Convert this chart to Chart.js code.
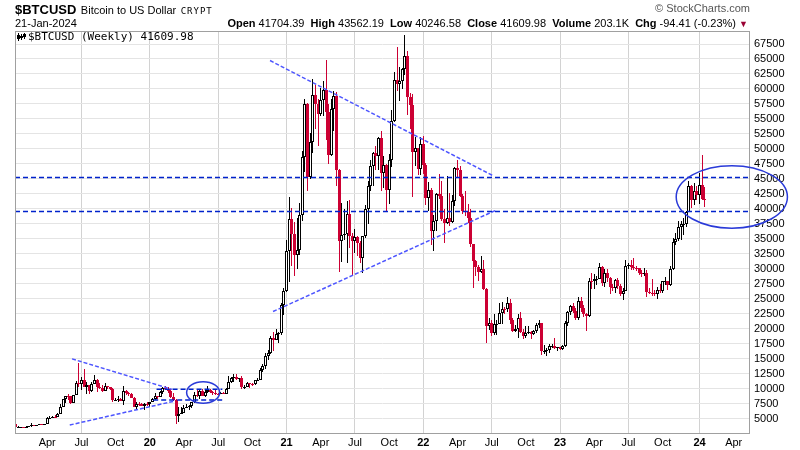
<!DOCTYPE html>
<html>
<head>
<meta charset="utf-8">
<script src="https://cdn.jsdelivr.net/npm/chart.js@4.4.1/dist/chart.umd.min.js"></script>
<style>
 html,body{margin:0;padding:0;background:#fff;}
 #wrap{position:relative;width:800px;height:450px;overflow:hidden;font-family:"Liberation Sans",Arial,sans-serif;color:#000;}
 #chart{position:absolute;left:0;top:0;}
 .t{position:absolute;white-space:nowrap;}
</style>
</head>
<body>
<div id="wrap">
 <canvas id="chart" width="800" height="450"></canvas>
 <div class="t" style="left:15px;top:1px;line-height:16px;"><span style="font-weight:bold;font-size:13px;">$BTCUSD</span> <span style="font-size:11px;">Bitcoin to US Dollar</span> <span style="font-family:'DejaVu Sans Mono',monospace;font-size:9px;letter-spacing:1px;">CRYPT</span></div>
 <div class="t" style="right:50px;top:2px;font-size:11px;line-height:13px;color:#555;">&copy; StockCharts.com</div>
 <div class="t" id="date" style="left:15px;top:17px;font-size:11px;line-height:13px;"></div>
 <div class="t" id="ohlc" style="right:52px;top:17px;font-size:11px;line-height:13px;"></div>
 <div class="t" id="leg" style="left:28px;top:30px;font-family:'DejaVu Sans Mono',monospace;font-size:11px;line-height:13px;"></div>
</div>
<script>
// ---- weekly candles, first bar = week ending Sun 13-Jan-2019, last = week ending Sun 21-Jan-2024 ----
const firstWeekEnd = '2019-01-13';
const extraWeeks = 17;           // empty weeks shown after the last bar
const lastVolume = '203.1K';

const opens = [
// 2019
4050,3510,3540,3550,3460,3660,3670,3850,3810,3920,4000,3990,4110,5060,5160,5300,5210,5730,7000,8200,8740,8720,7650,8990,10860,10820,11480,10250,10540,9530,10820,11390,10230,10140,9630,10390,10310,10000,8070,8150,8300,7950,9550,9200,9050,8500,6900,7420,7400,7060,7500,
// 2020
7400,7760,8190,8700,8600,9340,10140,9920,9660,8560,8040,5360,5830,5880,6780,6900,7120,7680,8900,8750,9670,8790,9450,9760,9390,9300,9120,9070,9280,9170,9930,11050,11680,11850,11660,11700,10260,10330,10930,10780,10680,11380,11500,13030,13740,15480,15960,18370,18180,19150,19270,23870,26270,
// 2021
33000,38350,35800,32300,33100,38900,48600,57500,45250,51200,59000,57500,55800,58200,59800,56200,49000,56600,58800,46400,34700,35700,35800,39100,35500,34700,35300,34250,31800,35400,39900,43800,47100,49300,48800,51800,46000,47300,43200,48200,54700,61500,60900,61300,63300,65500,58700,57300,49400,50100,46700,50800,
// 2022
47300,41800,43100,36300,37900,42400,42200,38300,37700,38400,37800,41300,46800,46400,42200,39700,39500,38500,34100,31300,30300,29400,29900,26600,20500,21000,19300,20800,20800,22600,23300,23200,24300,21500,19600,20000,21800,19400,18800,19300,19400,19100,19600,20600,20900,16300,16300,16500,17100,17100,16750,16850,
// 2023
16600,17100,20900,22700,23700,22900,21800,24600,23500,22400,22150,28000,27990,28200,28300,30300,27600,29200,28400,26900,26800,28100,27100,25800,26300,30500,30600,30300,30200,30100,29300,29050,29300,26100,26000,25900,25800,26500,26200,27900,27900,27200,30000,34500,35000,37000,37400,37500,39500,43800,41400,43000,
// 2024
42300,43900,41704.39
];
const highs = [
// 2019
4110,3720,3640,3560,3700,3700,4200,3920,3950,4030,4080,4140,5300,5470,5360,5630,5900,7450,8300,8800,9090,8780,9000,11230,14200,12000,13180,11080,10650,11040,12320,11600,10950,10620,10900,10450,10330,10050,8450,8810,8410,10370,9800,9500,9270,8510,7820,7750,7650,7520,7690,
// 2020
7800,8470,9190,8780,9560,10180,10500,10250,9980,9190,8180,6900,6880,7280,7460,7290,7730,9460,10000,9900,9950,9740,10400,10000,9580,9790,9290,9480,9340,10110,12050,11910,12460,12470,11800,12080,10590,11170,10990,10960,11490,11720,13350,14040,15960,16480,18780,19420,19920,19410,24300,26800,34780,
// 2021
41950,40100,37850,38500,40950,49700,58350,57600,52650,61700,60700,58400,60100,61300,64850,57500,58400,59600,59500,46600,40900,39900,41300,41400,36000,36600,35400,34700,35500,40600,44700,48100,49500,50500,52000,52900,48800,47400,49200,56500,62900,67000,63700,63500,69000,66300,59300,59100,51900,50200,51900,52100,
// 2022
47600,44400,43500,38900,42600,45800,44700,40000,45400,42600,42300,46900,48200,47100,42400,42900,40800,40000,34200,31400,30600,32200,31500,26800,21800,21400,22500,21500,24200,24500,23600,25200,25000,21800,20600,22500,22700,19900,20400,20500,19600,19700,21000,21500,21000,17200,16800,17400,17400,18400,17000,16950,
// 2023
17200,21300,23000,23900,24200,23400,25200,25200,23900,22600,28400,29200,29100,28800,31000,30400,30000,29900,28600,27500,28200,28400,27400,26800,31400,31000,31400,31800,30400,30200,29700,30200,29700,26800,28200,26400,26900,27500,28000,28600,28000,30400,35200,35900,37900,37900,38400,39600,44700,43900,44300,43800,
// 2024
45900,49000,43562.19
];
const lows = [
// 2019
3500,3500,3500,3400,3390,3580,3660,3760,3720,3850,3970,3930,4100,4950,5050,5050,5180,5700,6880,7520,8080,7450,7560,8950,10270,9710,10220,9080,9170,9390,10800,9490,9890,9360,9600,9930,9710,7720,7880,7790,7900,7300,8970,8700,8430,6850,6530,7150,7050,6430,7150,
// 2020
6860,7700,8100,8250,8550,9140,9700,9300,8490,8000,4000,4450,5690,5860,6750,6470,6800,7650,8600,8200,8710,8650,9300,9240,9000,8880,8960,9050,9050,9140,9900,10980,11160,11380,11120,9900,9880,10210,10140,10380,10530,11220,11420,12800,13200,14840,15820,16330,18120,17600,19000,22350,26100,
// 2021
27700,30400,28850,29900,32300,37950,46200,43000,44950,49300,53300,50500,55500,55500,51500,47500,48800,52900,43800,29500,31100,34800,31000,33400,28800,32700,32100,31000,29300,35200,37500,42900,43800,46400,46500,42900,43400,39600,40800,46900,54400,59700,58000,60000,62300,55600,53300,42000,47100,45600,45600,45800,
// 2022
40600,39700,34000,32900,36300,41700,38000,34300,37500,37100,37600,40500,45200,41900,39200,38800,37600,33700,26700,28700,28000,29300,26500,17600,19700,18700,19000,18900,20700,20700,22500,22700,20800,19500,19500,18500,19300,18200,18500,19100,18200,18900,19300,20100,15600,15800,15500,16000,16700,16600,16300,16400,
// 2023
16500,17000,20400,22300,22600,21400,21400,22800,21900,19600,21900,26600,26600,27300,28200,27100,26900,27700,25800,26300,25900,26600,25400,24800,26200,29900,29800,29700,29600,29000,28600,28700,25200,25700,25400,25400,24900,26000,26000,27200,26500,27100,29800,33900,34600,34800,35700,36900,39400,40200,40600,41500,
// 2024
40800,41500,40246.58
];
const closes = [
// 2019
3510,3540,3550,3460,3660,3670,3850,3810,3920,4000,3990,4110,5060,5160,5300,5210,5730,7000,8200,8740,8720,7650,8990,10860,10820,11480,10250,10540,9530,10820,11390,10230,10140,9630,10390,10310,10000,8070,8150,8300,7950,9550,9200,9050,8500,6900,7420,7400,7060,7500,7400,
// 2020
7760,8190,8700,8600,9340,10140,9920,9660,8560,8040,5360,5830,5880,6780,6900,7120,7680,8900,8750,9670,8790,9450,9760,9390,9300,9120,9070,9280,9170,9930,11050,11680,11850,11660,11700,10260,10330,10930,10780,10680,11380,11500,13030,13740,15480,15960,18370,18180,19150,19270,23870,26270,33000,
// 2021
38350,35800,32300,33100,38900,48600,57500,45250,51200,59000,57500,55800,58200,59800,56200,49000,56600,58800,46400,34700,35700,35800,39100,35500,34700,35300,34250,31800,35400,39900,43800,47100,49300,48800,51800,46000,47300,43200,48200,54700,61500,60900,61300,63300,65500,58700,57300,49400,50100,46700,50800,47300,
// 2022
41800,43100,36300,37900,42400,42200,38300,37700,38400,37800,41300,46800,46400,42200,39700,39500,38500,34100,31300,30300,29400,29900,26600,20500,21000,19300,20800,20800,22600,23300,23200,24300,21500,19600,20000,21800,19400,18800,19300,19400,19100,19600,20600,20900,16300,16300,16500,17100,17100,16750,16850,16600,
// 2023
17100,20900,22700,23700,22900,21800,24600,23500,22400,22150,28000,27990,28200,28300,30300,27600,29200,28400,26900,26800,28100,27100,25800,26300,30500,30600,30300,30200,30100,29300,29050,29300,26100,26000,25900,25800,26500,26200,27900,27900,27200,30000,34500,35000,37000,37400,37500,39500,43800,41400,43000,42300,
// 2024
43900,41704.39,41609.98
];

// y-axis tick labels
const yTicks = [5000,7500,10000,12500,15000,17500,20000,22500,25000,27500,30000,32500,35000,37500,40000,42500,45000,47500,50000,52500,55000,57500,60000,62500,65000,67500];
const quarterNames = {0:null,3:'Apr',6:'Jul',9:'Oct'};

// annotations: [date, price]
const trendUpper2019 = [['2019-06-12',14950],['2020-03-04',9860]];
const trendLower2019 = [['2019-06-06',3914],['2020-03-12',7924]];
const band2020Top    = [['2020-01-23',9880],['2020-07-16',9880]];
const band2020Bottom = [['2020-01-14',8090],['2020-07-22',8090]];
const triUpper       = [['2020-11-20',64740],['2022-07-06',45530]];
const triLower       = [['2020-11-28',22850],['2022-07-17',39840]];
const hLevels = [45250, 39650];
const ellipseCenters = [['2020-05-26',9345],['2024-04-02',41980]];
const ellipseHalfDays = [44, 148];
const ellipseHalfPrice = [1805, 5210];

// ---- helpers ----
const DAY = 86400000;
const t0 = Date.parse(firstWeekEnd + 'T00:00:00Z');
const idxOf = s => (Date.parse(s + 'T00:00:00Z') - t0) / (7 * DAY);
const nBars = closes.length;
const nSlots = nBars + extraWeeks;
const weekEnds = [];
for (let i = 0; i < nSlots; i++) weekEnds.push(new Date(t0 + i * 7 * DAY));
const MON = ['Jan','Feb','Mar','Apr','May','Jun','Jul','Aug','Sep','Oct','Nov','Dec'];

const tickIdx = [], tickText = {}, tickBold = {}, gridIdx = {};
weekEnds.forEach((d, i) => {
  const m = d.getUTCMonth();
  if (d.getUTCDate() <= 7 && m % 3 === 0) {
    tickIdx.push(i);
    if (m === 0) { tickText[i] = String(d.getUTCFullYear() % 100).padStart(2,'0'); tickBold[i] = true; }
    else tickText[i] = quarterNames[m];
    if (m === 0 || m === 6) gridIdx[i] = true;
  }
});

const BLACK = '#000000', RED = '#cc0033';
const cColor = [], cFill = [];
for (let i = 0; i < nBars; i++) {
  const prev = i > 0 ? closes[i-1] : opens[i];
  const col = closes[i] >= prev ? BLACK : RED;
  cColor.push(col);
  cFill.push(closes[i] > opens[i] ? '#ffffff' : col);
}

// header texts
const li = nBars - 1;
const ld = weekEnds[li];
document.getElementById('date').textContent =
  String(ld.getUTCDate()).padStart(2,'0') + '-' + MON[ld.getUTCMonth()] + '-' + ld.getUTCFullYear();
const chg = closes[li] - closes[li-1];
const pct = chg / closes[li-1] * 100;
document.getElementById('ohlc').innerHTML =
  '<b>Open</b> ' + opens[li].toFixed(2) + ' &nbsp;<b>High</b> ' + highs[li].toFixed(2) +
  ' &nbsp;<b>Low</b> ' + lows[li].toFixed(2) + ' &nbsp;<b>Close</b> ' + closes[li].toFixed(2) +
  ' &nbsp;<b>Volume</b> ' + lastVolume + ' &nbsp;<b>Chg</b> ' + chg.toFixed(2) + ' (' + pct.toFixed(2) + '%) ' +
  '<span style="color:#990033;font-size:9px;">&#9660;</span>';
document.getElementById('leg').textContent = '$BTCUSD (Weekly) ' + closes[li].toFixed(2);

// ---- datasets ----
const wickData = [], bodyData = [];
for (let i = 0; i < nBars; i++) {
  wickData.push({x: i, y: [lows[i], highs[i]]});
  bodyData.push({x: i, y: [opens[i], closes[i]]});
}
const lineDs = (pts, color, dash, w) => ({
  type: 'line', data: pts.map(p => ({x: idxOf(p[0]), y: p[1]})),
  borderColor: color, borderWidth: w, borderDash: dash, pointRadius: 0,
  fill: false, tension: 0, order: 0
});
const LIGHT = '#4d55ff', DARK = '#0022cc';

const snapPlugin = {
  id: 'snap',
  afterDatasetsUpdate(chart) {
    chart.data.datasets.forEach((ds, di) => {
      if (!ds.role) return;
      const meta = chart.getDatasetMeta(di);
      const w = ds.role === 'body' ? 3 : 1;
      meta.data.forEach(el => {
        if (!el || isNaN(el.x) || isNaN(el.y)) return;
        el.x = Math.floor(el.x) + 0.5;
        el.width = w;
        let y = Math.round(el.y), b = Math.round(el.base);
        if (Math.abs(b - y) < 1) b = y + 1;
        el.y = y; el.base = b;
      });
    });
  }
};

const decoPlugin = {
  id: 'deco',
  afterDatasetsDraw(chart) {
    const {ctx, chartArea: a, scales: {y}} = chart;
    ctx.save();
    ctx.strokeStyle = DARK; ctx.lineWidth = 1.5; ctx.setLineDash([5,3]);
    hLevels.forEach(v => {
      const py = Math.round(y.getPixelForValue(v)) + 0.5;
      ctx.beginPath(); ctx.moveTo(a.left, py); ctx.lineTo(a.right, py); ctx.stroke();
    });
    ctx.restore();
  },
  afterDraw(chart) {
    const {ctx, chartArea: a, scales: {x, y}} = chart;
    ctx.save();
    ctx.strokeStyle = '#a0a0a0'; ctx.lineWidth = 1; ctx.setLineDash([]);
    ctx.strokeRect(Math.round(a.left) + 0.5, Math.round(a.top) + 0.5, Math.round(a.right - a.left) - 1, Math.round(a.bottom - a.top));
    // legend icon
    ctx.fillStyle = '#000';
    [[18,33,41,35,39],[21,34,40,36,38],[24,33,39,34,37]].forEach(c => {
      ctx.fillRect(c[0], c[1], 1, c[2]-c[1]);
      ctx.fillRect(c[0]-1, c[3], 3, c[4]-c[3]);
    });
    // ellipses
    ctx.strokeStyle = '#2a3ad8'; ctx.lineWidth = 1.5;
    ellipseCenters.forEach((c, k) => {
      const ci = idxOf(c[0]);
      const cx = x.getPixelForValue(ci), cy = y.getPixelForValue(c[1]);
      const rx = Math.abs(x.getPixelForValue(ci + ellipseHalfDays[k] / 7) - cx);
      const ry = Math.abs(y.getPixelForValue(c[1] + ellipseHalfPrice[k]) - cy);
      ctx.beginPath(); ctx.ellipse(cx, cy, rx, ry, 0, 0, Math.PI * 2); ctx.stroke();
    });
    ctx.restore();
  }
};

const FONT = "'Liberation Sans', Arial, sans-serif";
new Chart(document.getElementById('chart'), {
  type: 'bar',
  data: {
    datasets: [
      {role: 'wick', data: wickData, backgroundColor: cColor, borderWidth: 0, grouped: false, inflateAmount: 0, order: 3},
      {role: 'body', data: bodyData, backgroundColor: cFill, borderColor: cColor, borderWidth: 1, borderSkipped: false, grouped: false, inflateAmount: 0, order: 2},
      lineDs(trendUpper2019, LIGHT, [4,2], 1.5),
      lineDs(trendLower2019, LIGHT, [4,2], 1.5),
      lineDs(triUpper, LIGHT, [4,2], 1.5),
      lineDs(triLower, LIGHT, [4,2], 1.5),
      lineDs(band2020Top, DARK, [5,3], 1.5),
      lineDs(band2020Bottom, DARK, [5,3], 1.5)
    ]
  },
  options: {
    responsive: false, animation: false, devicePixelRatio: 1,
    layout: {padding: {left: 15, top: 31, right: 0, bottom: 0}},
    plugins: {legend: {display: false}, tooltip: {enabled: false}},
    scales: {
      x: {
        type: 'linear', min: -0.25, max: nSlots - 0.8, offset: false, position: 'bottom',
        afterBuildTicks: s => { s.ticks = tickIdx.map(v => ({value: v})); },
        afterFit: s => { s.height = 17; },
        border: {display: false},
        grid: {offset: false, drawTicks: false, lineWidth: 1,
               color: c => (c.tick && gridIdx[c.tick.value]) ? '#d2d2d2' : 'rgba(0,0,0,0)'},
        ticks: {autoSkip: false, maxRotation: 0, minRotation: 0, padding: 3, color: '#000',
                font: c => ({family: FONT, size: 11, weight: (c.tick && tickBold[c.tick.value]) ? 'bold' : 'normal'}),
                callback: v => tickText[v] || ''}
      },
      y: {
        type: 'linear', position: 'right', min: 2580, max: 69670,
        afterBuildTicks: s => { s.ticks = yTicks.map(v => ({value: v})); },
        afterFit: s => { s.width = 50; },
        border: {display: false},
        grid: {color: '#e4e4e4', drawTicks: false, lineWidth: 1},
        ticks: {autoSkip: false, padding: 4, color: '#000', font: {family: FONT, size: 11}, callback: v => String(v)}
      }
    }
  },
  plugins: [snapPlugin, decoPlugin]
});
</script>
</body>
</html>
